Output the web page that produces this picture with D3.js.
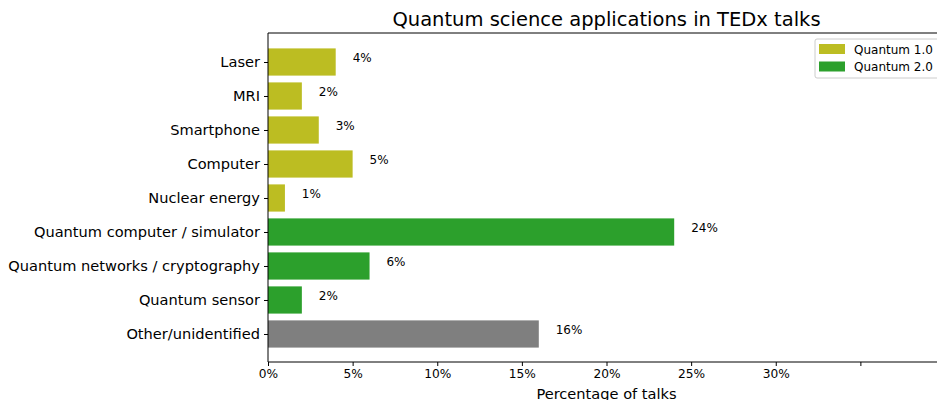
<!DOCTYPE html>
<html>
<head>
<meta charset="utf-8">
<script src="https://cdn.jsdelivr.net/npm/d3@7"></script>
<style>
  body { margin: 0; background: #fff; }
  svg { font-family: "DejaVu Sans", sans-serif; }
</style>
</head>
<body>
<div id="chart"></div>
<script>
// data
var categories = ["Laser", "MRI", "Smartphone", "Computer", "Nuclear energy",
    "Quantum computer / simulator", "Quantum networks / cryptography",
    "Quantum sensor", "Other/unidentified"];
var values = [4, 2, 3, 5, 1, 24, 6, 2, 16];
var groups = ["q1", "q1", "q1", "q1", "q1", "q2", "q2", "q2", "other"];
var xTicks = [0, 5, 10, 15, 20, 25, 30, 35];
var xTickLabels = ["0%", "5%", "10%", "15%", "20%", "25%", "30%", ""];
var legendNames = ["Quantum 1.0", "Quantum 2.0"];

var colors = { q1: "#bcbd22", q2: "#2ca02c", other: "#7f7f7f" };

var svgWidth = 937, svgHeight = 400;
var margin = { top: 33, left: 268 };
var plotWidth = 677, plotHeight = 329;

var svg = d3.select("#chart")
    .append("svg")
    .attr("width", svgWidth)
    .attr("height", svgHeight);

var chartGroup = svg.append("g")
    .attr("transform", `translate(${margin.left}, ${margin.top})`);

// scales
var xScale = d3.scaleLinear().domain([0, 40]).range([0, plotWidth]);
var yScale = d3.scaleLinear().domain([-0.853, 8.824]).range([0, plotHeight]);
var barH = yScale(0.4) - yScale(-0.4);

// bars
chartGroup.selectAll("rect.bar")
    .data(values)
    .enter()
    .append("rect")
    .attr("class", "bar")
    .attr("x", xScale(0))
    .attr("y", function(d, i) { return yScale(i) - barH / 2; })
    .attr("width", function(d) { return xScale(d) - xScale(0); })
    .attr("height", barH)
    .attr("fill", function(d, i) { return colors[groups[i]]; });

// value labels
chartGroup.selectAll("text.val")
    .data(values)
    .enter()
    .append("text")
    .attr("class", "val")
    .attr("x", function(d) { return xScale(d + 1); })
    .attr("y", function(d, i) { return yScale(i); })
    .attr("font-size", "12px")
    .attr("fill", "#000")
    .text(function(d) { return d + "%"; });

// x axis
var xAxis = d3.axisBottom(xScale)
    .tickValues(xTicks)
    .tickFormat(function(d, i) { return xTickLabels[i]; })
    .tickSize(4)
    .tickPadding(3.5);
var gx = chartGroup.append("g")
    .attr("transform", `translate(0, ${plotHeight})`)
    .call(xAxis);
gx.select(".domain").remove();
gx.selectAll("text").attr("font-size", "12.2px").attr("font-family", "DejaVu Sans").attr("fill", "#000");

// y axis
var yAxis = d3.axisLeft(yScale)
    .tickValues(d3.range(categories.length))
    .tickFormat(function(d) { return categories[d]; })
    .tickSize(4)
    .tickPadding(4);
var gy = chartGroup.append("g").call(yAxis);
gy.select(".domain").remove();
gy.selectAll("text").attr("font-size", "14.6px").attr("font-family", "DejaVu Sans").attr("fill", "#000");

// spines
chartGroup.append("line").attr("x1", 0).attr("x2", 0).attr("y1", 0).attr("y2", plotHeight)
    .attr("stroke", "#000").attr("stroke-width", 1);
chartGroup.append("line").attr("x1", 0).attr("x2", plotWidth).attr("y1", 0).attr("y2", 0)
    .attr("stroke", "#000").attr("stroke-width", 1);
chartGroup.append("line").attr("x1", 0).attr("x2", plotWidth).attr("y1", plotHeight).attr("y2", plotHeight)
    .attr("stroke", "#000").attr("stroke-width", 1);

// title + axis label
svg.append("text")
    .attr("x", margin.left + plotWidth / 2)
    .attr("y", 26)
    .attr("text-anchor", "middle")
    .attr("font-size", "19.5px")
    .text("Quantum science applications in TEDx talks");

svg.append("text")
    .attr("x", margin.left + plotWidth / 2)
    .attr("y", 399)
    .attr("text-anchor", "middle")
    .attr("font-size", "14.6px")
    .text("Percentage of talks");

// legend
var legend = svg.append("g").attr("transform", "translate(815, 39)");
legend.append("rect")
    .attr("x", 0).attr("y", 0).attr("width", 130).attr("height", 39)
    .attr("rx", 2).attr("fill", "#fff").attr("stroke", "#ccc");
legend.selectAll("rect.sw")
    .data(legendNames)
    .enter()
    .append("rect")
    .attr("class", "sw")
    .attr("x", 4)
    .attr("y", function(d, i) { return 5 + i * 17.5; })
    .attr("width", 26)
    .attr("height", 10)
    .attr("fill", function(d, i) { return i === 0 ? colors.q1 : colors.q2; });
legend.selectAll("text.lg")
    .data(legendNames)
    .enter()
    .append("text")
    .attr("class", "lg")
    .attr("x", 39)
    .attr("y", function(d, i) { return 14.5 + i * 17.5; })
    .attr("font-size", "12px")
    .text(function(d) { return d; });
</script>
</body>
</html>
